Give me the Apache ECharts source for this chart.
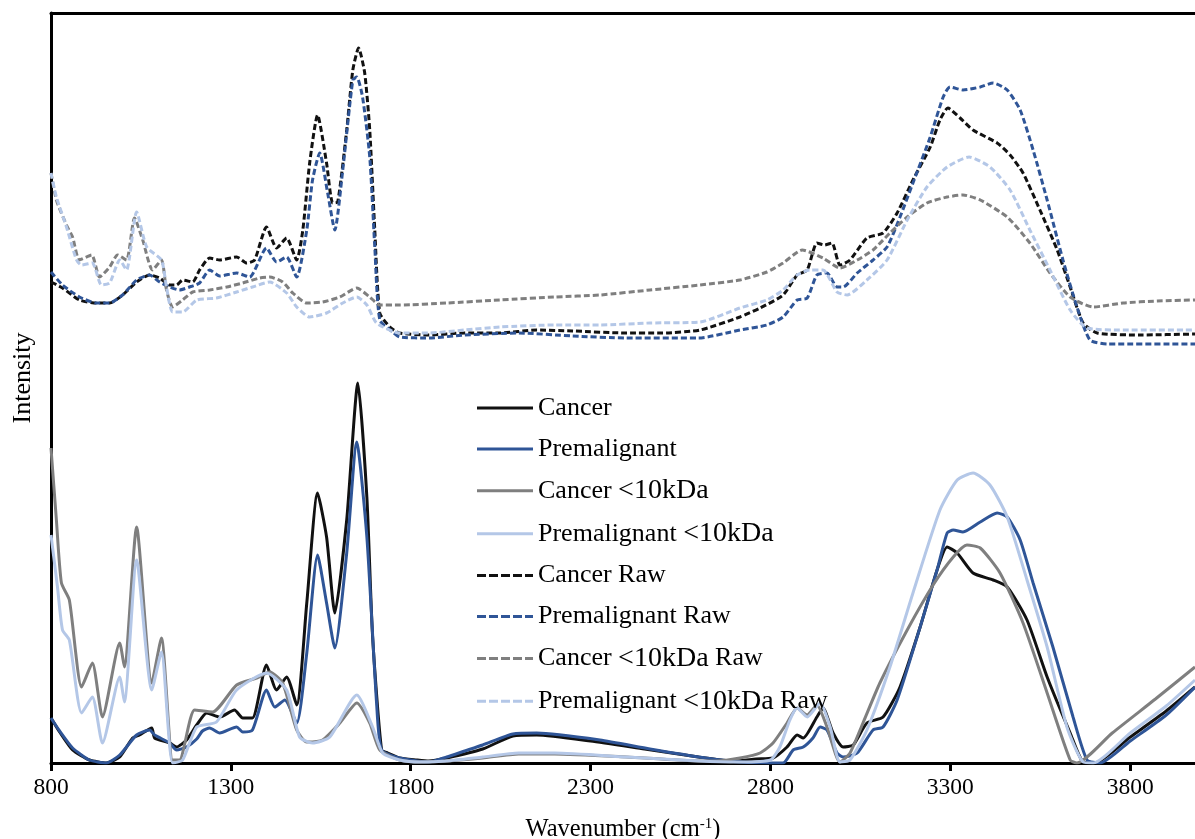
<!DOCTYPE html>
<html>
<head>
<meta charset="utf-8">
<script src="https://cdn.jsdelivr.net/npm/echarts@6/dist/echarts.min.js"></script>
<style>
  html, body { margin: 0; padding: 0; background: #fff; }
  #chart { width: 1195px; height: 839px; }
</style>
</head>
<body>
<div id="chart"></div>
<script>
// Wavenumber ticks (cm-1)
const wavenumberTicks = [800, 1300, 1800, 2300, 2800, 3300, 3800];

// Processed spectra: [wavenumber, intensity (a.u.)]
const cancer = [
  [800,45],[824,31],[860,13],[907,3],[954,0],[991,6],[1027,25],[1046,28],[1080,35],[1088,25],
  [1130,20],[1149,16],[1177,23],[1205,38],[1233,50],[1269,46],[1310,53],[1333,45],[1360,45],
  [1399,98],[1427,73],[1455,86],[1483,58],[1511,160],[1541,270],[1566,226],[1589,150],[1622,243],
  [1653,380],[1678,266],[1694,126],[1719,13],[1736,10],[1769,5],[1817,3],[1850,2],[1900,5],
  [2000,14],[2084,27],[2150,28],[2300,22],[2450,14],[2600,6],[2700,2],[2760,4],[2807,5],
  [2846,16],[2874,28],[2891,25],[2929,46],[2946,55],[2974,30],[3002,16],[3030,18],[3068,40],
  [3113,46],[3160,76],[3216,136],[3263,193],[3291,216],[3319,210],[3363,190],[3419,183],
  [3458,176],[3513,143],[3569,86],[3633,30],[3669,1],[3700,0],[3800,26],[3900,52],[3980,76]
];
const premalignant = [
  [800,45],[824,32],[860,15],[907,3],[954,0],[991,8],[1038,28],[1074,33],[1088,28],[1130,20],
  [1149,13],[1177,16],[1205,24],[1221,32],[1241,35],[1269,30],[1316,36],[1333,31],[1360,33],
  [1399,73],[1422,56],[1450,63],[1483,40],[1511,110],[1541,208],[1566,160],[1589,115],[1622,210],
  [1650,321],[1678,226],[1705,60],[1719,13],[1769,5],[1817,2],[1850,1],[1900,6],[1950,12],
  [2000,18],[2084,29],[2150,30],[2326,23],[2465,14],[2620,5],[2715,1],[2835,0],[2863,13],
  [2891,16],[2918,25],[2938,36],[2957,33],[2985,10],[3002,6],[3041,10],[3085,33],[3113,36],
  [3152,63],[3216,136],[3263,193],[3291,230],[3308,233],[3335,231],[3383,241],[3430,250],
  [3458,246],[3494,223],[3530,180],[3585,116],[3641,46],[3680,3],[3716,0],[3800,22],[3900,48],[3980,76]
];
const cancer10 = [
  [800,315],[815,243],[829,180],[851,163],[885,76],[915,100],[943,46],[991,120],[1004,96],
  [1038,236],[1080,80],[1107,125],[1138,3],[1157,3],[1199,53],[1249,51],[1316,78],[1372,85],
  [1408,91],[1444,80],[1483,33],[1511,21],[1555,23],[1603,40],[1650,60],[1686,40],[1714,13],
  [1769,3],[1825,1],[1900,2],[2000,5],[2100,9],[2200,9],[2400,6],[2600,2],[2650,2],[2715,5],
  [2771,10],[2807,20],[2846,40],[2874,55],[2902,48],[2929,58],[2957,36],[2993,1],[3021,10],
  [3057,40],[3104,80],[3180,133],[3252,178],[3308,206],[3346,218],[3383,215],[3438,190],
  [3502,140],[3569,70],[3633,3],[3652,0],[3750,30],[3870,64],[3980,96]
];
const premalignant10 = [
  [800,228],[818,176],[832,133],[851,123],[885,50],[915,66],[943,20],[991,86],[1004,61],
  [1038,203],[1080,73],[1107,111],[1138,0],[1166,3],[1205,36],[1260,41],[1316,73],[1399,90],
  [1455,73],[1491,26],[1527,20],[1575,26],[1650,68],[1694,36],[1722,10],[1769,3],[1825,1],
  [1900,2],[2000,6],[2100,10],[2200,10],[2400,6],[2600,2],[2715,1],[2800,3],[2826,16],
  [2854,43],[2874,55],[2902,46],[2938,60],[2966,36],[2993,1],[3021,3],[3068,33],[3132,96],
  [3196,170],[3271,253],[3319,283],[3363,290],[3410,278],[3458,246],[3513,183],[3569,116],
  [3624,36],[3669,1],[3697,0],[3800,30],[3900,57],[3980,83]
];

// Raw spectra: [wavenumber, intensity (a.u.)]
const cancerRaw = [
  [800,481],[832,475],[879,463],[927,460],[963,460],[999,468],[1038,481],[1074,488],[1102,485],
  [1130,478],[1149,478],[1166,483],[1194,481],[1213,493],[1241,505],[1269,503],[1316,506],
  [1344,500],[1366,503],[1399,536],[1427,515],[1455,525],[1483,503],[1500,533],[1519,600],
  [1541,648],[1566,600],[1583,560],[1597,561],[1622,633],[1639,693],[1655,715],[1672,690],
  [1686,633],[1700,533],[1714,450],[1742,436],[1769,430],[1850,428],[1950,430],[2047,430],
  [2150,433],[2250,432],[2400,430],[2500,430],[2604,433],[2715,446],[2771,455],[2835,468],
  [2874,488],[2902,493],[2929,520],[2950,518],[2971,520],[2993,498],[3021,503],[3068,525],
  [3113,530],[3152,550],[3196,583],[3244,616],[3271,643],[3293,655],[3327,645],[3363,633],
  [3430,620],[3466,608],[3502,590],[3549,553],[3597,513],[3633,476],[3669,440],[3708,430],
  [3827,428],[3980,429]
];
const premalignantRaw = [
  [800,491],[832,478],[879,466],[927,460],[963,460],[999,468],[1038,483],[1074,488],[1102,481],
  [1130,476],[1157,473],[1185,476],[1213,480],[1241,493],[1269,487],[1316,490],[1352,486],
  [1399,515],[1427,501],[1455,506],[1483,486],[1511,533],[1527,583],[1547,610],[1569,570],
  [1589,533],[1611,593],[1639,683],[1650,686],[1666,666],[1686,606],[1700,516],[1714,443],
  [1750,431],[1769,426],[1850,425],[1950,428],[2100,430],[2250,427],[2400,425],[2600,425],
  [2715,433],[2790,438],[2835,446],[2874,463],[2902,465],[2929,488],[2957,490],[2985,476],
  [3002,476],[3041,490],[3085,503],[3124,516],[3160,546],[3196,580],[3244,626],[3280,666],
  [3299,676],[3335,673],[3383,676],[3419,680],[3458,673],[3494,653],[3530,613],[3569,563],
  [3613,503],[3652,456],[3688,423],[3736,419],[3980,419]
];
const cancer10Raw = [
  [800,590],[815,563],[843,538],[860,526],[879,503],[913,508],[935,486],[963,496],[985,508],
  [1010,503],[1032,545],[1055,523],[1082,493],[1107,503],[1121,473],[1138,456],[1166,463],
  [1194,471],[1241,473],[1288,476],[1333,480],[1380,485],[1408,486],[1444,481],[1472,470],
  [1511,460],[1555,461],[1603,466],[1650,475],[1686,466],[1714,458],[1769,458],[1900,460],
  [2047,463],[2200,466],[2326,468],[2465,473],[2604,478],[2715,483],[2790,491],[2835,500],
  [2888,513],[2946,505],[2993,495],[3041,503],[3085,513],[3132,530],[3180,546],[3235,560],
  [3291,566],[3335,568],[3383,563],[3458,546],[3521,520],[3577,490],[3633,466],[3697,456],
  [3780,460],[3875,462],[3980,463]
];
const premalignant10Raw = [
  [800,590],[815,566],[843,536],[871,503],[885,498],[915,500],[940,478],[963,480],[991,503],
  [1010,493],[1038,551],[1066,516],[1107,503],[1121,476],[1138,451],[1166,451],[1205,463],
  [1260,465],[1316,471],[1360,476],[1408,481],[1455,470],[1483,456],[1519,446],[1566,450],
  [1611,460],[1650,466],[1678,458],[1705,440],[1769,430],[1850,430],[1950,433],[2047,436],
  [2200,438],[2326,438],[2465,440],[2604,441],[2715,455],[2790,463],[2835,473],[2874,488],
  [2910,493],[2946,493],[2985,471],[3013,468],[3068,483],[3124,503],[3180,543],[3235,576],
  [3291,596],[3352,606],[3410,596],[3466,573],[3521,533],[3577,493],[3633,453],[3680,435],
  [3780,433],[3980,433]
];

const FONT = '"Liberation Serif", "Times New Roman", serif';
const BLACK = '#111111';
const BLUE = '#2F5597';
const GREY = '#7F7F7F';
const LIGHT = '#B4C7E7';
const DASH = [6, 3];

// Legend keys: a plain bar for processed spectra, a dashed bar for raw ones
const SOLID_ICON = 'rect';
const DASHED_ICON = 'path://M0,0h9v3h-9z M12,0h9v3h-9z M24,0h9v3h-9z M36,0h9v3h-9z M48,0h8v3h-8z';

const lines = [
  { name: 'Cancer', data: cancer, color: BLACK, dashed: false },
  { name: 'Premalignant', data: premalignant, color: BLUE, dashed: false },
  { name: 'Cancer <10kDa', data: cancer10, color: GREY, dashed: false },
  { name: 'Premalignant <10kDa', data: premalignant10, color: LIGHT, dashed: false },
  { name: 'Cancer Raw', data: cancerRaw, color: BLACK, dashed: true },
  { name: 'Premalignant Raw', data: premalignantRaw, color: BLUE, dashed: true },
  { name: 'Cancer <10kDa Raw', data: cancer10Raw, color: GREY, dashed: true },
  { name: 'Premalignant <10kDa Raw', data: premalignant10Raw, color: LIGHT, dashed: true }
];

// Set the "<10kDa" part of a legend name in its own, slightly wider text style
function legendLabel(name) {
  const parts = name.split(' <10kDa');
  if (parts.length === 1) return '{a|' + name + '}';
  return '{a|' + parts[0] + ' }{b|<10kDa}' + (parts[1] ? '{a|' + parts[1] + '}' : '');
}

const chart = echarts.init(document.getElementById('chart'), null, { renderer: 'canvas' });

const axisLineStyle = { color: '#000', width: 3 };

chart.setOption({
  animation: false,
  backgroundColor: '#fff',
  grid: { left: 51, right: 0, top: 13, bottom: 76, containLabel: false, outerBoundsMode: 'none' },
  xAxis: [
    {
      type: 'value',
      min: 800,
      max: 3980,
      position: 'bottom',
      axisLine: { show: true, lineStyle: axisLineStyle },
      axisTick: { show: true, customValues: wavenumberTicks, length: 8, lineStyle: { color: '#000', width: 3 } },
      axisLabel: {
        customValues: wavenumberTicks,
        formatter: v => String(v),
        fontFamily: FONT, fontSize: 23.5, color: '#000', margin: 13
      },
      splitLine: { show: false },
      name: '{a|Wavenumber (cm}{s|-1}{a|)}',
      nameLocation: 'middle',
      nameGap: 54,
      nameTextStyle: {
        rich: {
          a: { fontFamily: FONT, fontSize: 24.5, color: '#000' },
          s: { fontFamily: FONT, fontSize: 15, color: '#000', verticalAlign: 'top', padding: [0, 0, 11, 0] }
        }
      }
    },
    {
      type: 'value',
      min: 800,
      max: 3980,
      position: 'top',
      axisLine: { show: true, lineStyle: axisLineStyle },
      axisTick: { show: false },
      axisLabel: { show: false },
      splitLine: { show: false }
    }
  ],
  yAxis: {
    type: 'value',
    min: 0,
    max: 750,
    axisLine: { show: true, lineStyle: axisLineStyle },
    axisTick: { show: false },
    axisLabel: { show: false },
    splitLine: { show: false },
    name: 'Intensity',
    nameLocation: 'middle',
    nameGap: 15,
    nameTextStyle: { fontFamily: FONT, fontSize: 26, color: '#000', padding: [0, 0, 0, 20] }
  },
  legend: {
    orient: 'vertical',
    left: 477,
    top: 395,
    padding: 0,
    itemWidth: 56,
    itemHeight: 3,
    itemGap: 14.9,
    formatter: legendLabel,
    textStyle: {
      fontFamily: FONT, fontSize: 26, color: '#000', lineHeight: 26,
      rich: {
        a: { fontFamily: FONT, fontSize: 26, color: '#000', lineHeight: 26 },
        b: { fontFamily: FONT, fontSize: 28, color: '#000', lineHeight: 26 }
      }
    },
    data: lines.map(l => ({ name: l.name, icon: l.dashed ? DASHED_ICON : SOLID_ICON }))
  },
  series: lines.map(l => ({
    type: 'line',
    name: l.name,
    xAxisIndex: 0,
    data: l.data,
    symbol: 'none',
    smooth: 0.2,
    color: l.color,
    lineStyle: { color: l.color, width: 3, type: l.dashed ? DASH : 'solid' }
  }))
});
</script>
</body>
</html>
